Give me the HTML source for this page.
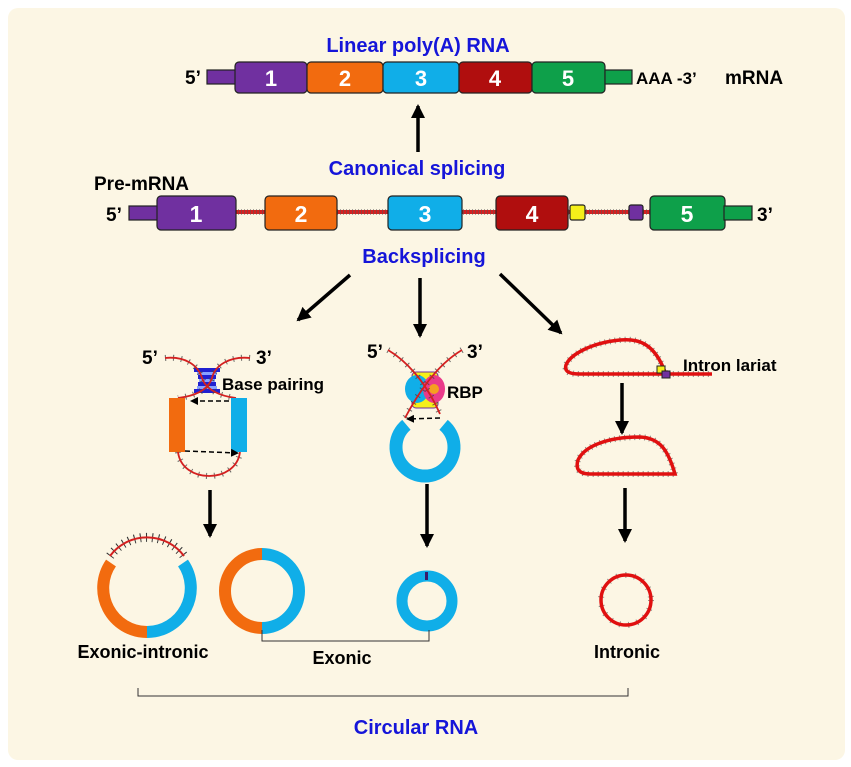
<!DOCTYPE html>
<html><head><meta charset="utf-8"><style>
html,body{margin:0;padding:0;background:#fff;}
svg{display:block;font-family:"Liberation Sans",Arial,sans-serif;font-weight:bold;}
</style></head><body>
<svg width="851" height="767" viewBox="0 0 851 767" xmlns="http://www.w3.org/2000/svg">
<defs>
<marker id="ah" markerWidth="8" markerHeight="8" refX="6" refY="4" orient="auto" markerUnits="userSpaceOnUse"><path d="M0,0 L8,4 L0,8z" fill="#000"/></marker>
<marker id="big" markerWidth="16" markerHeight="16" refX="12" refY="8" orient="auto" markerUnits="userSpaceOnUse"><path d="M0,1 L14,8 L0,15z" fill="#000"/></marker>
<pattern id="tick" width="3" height="8" patternUnits="userSpaceOnUse"><rect x="1" y="0" width="1" height="8" fill="#555"/></pattern>
</defs>
<rect x="0" y="0" width="851" height="767" fill="#fff"/>
<rect x="8" y="8" width="837" height="752" rx="10" fill="#fcf6e4"/>

<text x="418" y="52" font-size="20" fill="#1515d9" text-anchor="middle">Linear poly(A) RNA</text>
<text x="185" y="84" font-size="19" fill="#000">5’</text>
<rect x="207" y="70" width="30" height="14" fill="#7030a0" stroke="#222" stroke-width="1.2"/>
<rect x="235" y="62" width="72" height="31" rx="4" fill="#7030a0" stroke="#222" stroke-width="1.2"/>
<rect x="307" y="62" width="76" height="31" rx="4" fill="#f26b0f" stroke="#222" stroke-width="1.2"/>
<rect x="383" y="62" width="76" height="31" rx="4" fill="#10aee8" stroke="#222" stroke-width="1.2"/>
<rect x="459" y="62" width="73" height="31" rx="4" fill="#b00e0e" stroke="#222" stroke-width="1.2"/>
<rect x="532" y="62" width="73" height="31" rx="4" fill="#0ea04a" stroke="#222" stroke-width="1.2"/>
<rect x="605" y="70" width="27" height="14" fill="#0ea04a" stroke="#222" stroke-width="1.2"/>
<g font-size="22" fill="#fff" text-anchor="middle">
<text x="271" y="86">1</text><text x="345" y="86">2</text><text x="421" y="86">3</text><text x="495" y="86">4</text><text x="568" y="86">5</text></g>
<text x="636" y="84" font-size="17" fill="#000">AAA -3’</text>
<text x="725" y="84" font-size="19" fill="#000">mRNA</text>

<line x1="418" y1="152" x2="418" y2="106" stroke="#000" stroke-width="3.5" marker-end="url(#big)"/>
<text x="417" y="175" font-size="20" fill="#1515d9" text-anchor="middle">Canonical splicing</text>
<text x="94" y="190" font-size="19" fill="#000">Pre-mRNA</text>

<rect x="236" y="210" width="414" height="4" fill="#d42020"/>
<rect x="236" y="209" width="414" height="6" fill="url(#tick)" opacity="0.5"/>
<text x="106" y="221" font-size="19" fill="#000">5’</text>
<rect x="129" y="206" width="30" height="14" fill="#7030a0" stroke="#222" stroke-width="1.2"/>
<rect x="157" y="196" width="79" height="34" rx="4" fill="#7030a0" stroke="#222" stroke-width="1.2"/>
<rect x="265" y="196" width="72" height="34" rx="4" fill="#f26b0f" stroke="#222" stroke-width="1.2"/>
<rect x="388" y="196" width="74" height="34" rx="4" fill="#10aee8" stroke="#222" stroke-width="1.2"/>
<rect x="496" y="196" width="72" height="34" rx="4" fill="#b00e0e" stroke="#222" stroke-width="1.2"/>
<rect x="570" y="205" width="15" height="15" rx="2" fill="#f5f01a" stroke="#222" stroke-width="1.2"/>
<rect x="629" y="205" width="14" height="15" rx="2" fill="#7030a0" stroke="#222" stroke-width="1.2"/>
<rect x="650" y="196" width="75" height="34" rx="4" fill="#0ea04a" stroke="#222" stroke-width="1.2"/>
<rect x="724" y="206" width="28" height="14" fill="#0ea04a" stroke="#222" stroke-width="1.2"/>
<text x="757" y="221" font-size="19" fill="#000">3’</text>
<g font-size="23" fill="#fff" text-anchor="middle">
<text x="196" y="222">1</text><text x="301" y="222">2</text><text x="425" y="222">3</text><text x="532" y="222">4</text><text x="687" y="222">5</text></g>

<text x="424" y="263" font-size="20" fill="#1515d9" text-anchor="middle">Backsplicing</text>
<line x1="350" y1="275" x2="298" y2="320" stroke="#000" stroke-width="3.5" marker-end="url(#big)"/>
<line x1="420" y1="278" x2="420" y2="336" stroke="#000" stroke-width="3.5" marker-end="url(#big)"/>
<line x1="500" y1="274" x2="561" y2="333" stroke="#000" stroke-width="3.5" marker-end="url(#big)"/>

<!-- left construct -->
<text x="142" y="364" font-size="19" fill="#000">5’</text>
<text x="256" y="364" font-size="19" fill="#000">3’</text>
<g fill="#2020d0"><rect x="194" y="368" width="26" height="4"/><rect x="198" y="375" width="18" height="4"/><rect x="198" y="382" width="18" height="4"/><rect x="194" y="389" width="26" height="4"/></g>
<rect x="197" y="372" width="20" height="3" fill="#88a0ff"/><rect x="199" y="379" width="16" height="3" fill="#88a0ff"/><rect x="197" y="386" width="20" height="3" fill="#88a0ff"/>
<g fill="none">
<g stroke="#444" stroke-width="6" stroke-dasharray="1 7" opacity="0.8">
<path d="M165,358 C185,356 198,365 202,378 C206,390 220,396 236,398"/>
<path d="M250,358 C230,356 215,365 212,378 C208,390 195,396 178,398"/>
<path d="M178,452 C182,484 236,484 240,452"/>
</g>
<g stroke="#d42020" stroke-width="1.8">
<path d="M165,358 C185,356 198,365 202,378 C206,390 220,396 236,398"/>
<path d="M250,358 C230,356 215,365 212,378 C208,390 195,396 178,398"/>
<path d="M178,452 C182,484 236,484 240,452"/>
</g></g>
<text x="222" y="390" font-size="17" fill="#000">Base pairing</text>
<rect x="169" y="398" width="16" height="54" fill="#f26b0f"/>
<rect x="231" y="398" width="16" height="54" fill="#10aee8"/>
<line x1="229" y1="401" x2="192" y2="401" stroke="#000" stroke-width="1.5" stroke-dasharray="5,3" marker-end="url(#ah)"/>
<line x1="185" y1="451" x2="237" y2="453" stroke="#000" stroke-width="1.5" stroke-dasharray="5,3" marker-end="url(#ah)"/>
<line x1="210" y1="490" x2="210" y2="536" stroke="#000" stroke-width="3.5" marker-end="url(#big)"/>

<!-- middle construct -->
<text x="367" y="358" font-size="19" fill="#000">5’</text>
<text x="467" y="358" font-size="19" fill="#000">3’</text>
<path d="M443.6,424.8 A29,29 0 1 1 406.4,424.8" fill="none" stroke="#10aee8" stroke-width="13"/>
<rect x="412" y="372" width="26" height="36" rx="4" fill="#f5f01a" stroke="#7030a0" stroke-width="1"/>
<ellipse cx="417" cy="389" rx="12" ry="14" fill="#10aee8"/>
<ellipse cx="434" cy="389" rx="11" ry="14" fill="#ea3b8a"/>
<circle cx="434" cy="389" r="5" fill="#f5a020"/>
<g fill="none">
<g stroke="#444" stroke-width="6" stroke-dasharray="1 7" opacity="0.8">
<path d="M388,350 C405,360 425,380 440,414"/>
<path d="M462,350 C445,360 425,380 405,418"/>
</g>
<g stroke="#d42020" stroke-width="1.8">
<path d="M388,350 C405,360 425,380 440,414"/>
<path d="M462,350 C445,360 425,380 405,418"/>
</g></g>
<line x1="440" y1="418" x2="408" y2="419" stroke="#000" stroke-width="1.5" stroke-dasharray="5,3" marker-end="url(#ah)"/>
<text x="447" y="398" font-size="17" fill="#000">RBP</text>
<line x1="427" y1="484" x2="427" y2="546" stroke="#000" stroke-width="3.5" marker-end="url(#big)"/>

<!-- right construct -->
<g fill="none">
<g stroke="#444" stroke-width="6" stroke-dasharray="1 4" opacity="0.6">
<path d="M665,372 C655,345 640,338 620,340 C590,343 570,355 566,365 C564,372 570,374 580,374 L712,374"/>
<path d="M675,474 C668,450 660,438 640,437 C610,437 585,445 578,460 C575,470 580,474 590,474 Z"/>
<circle cx="626" cy="600" r="25" stroke-dasharray="1 8"/>
</g>
<g stroke="#e01010" stroke-width="3.5">
<path d="M665,372 C655,345 640,338 620,340 C590,343 570,355 566,365 C564,372 570,374 580,374 L712,374"/>
<path d="M675,474 C668,450 660,438 640,437 C610,437 585,445 578,460 C575,470 580,474 590,474 Z"/>
<circle cx="626" cy="600" r="25"/>
</g></g>
<rect x="657" y="366" width="8" height="7" fill="#f5f01a" stroke="#222"/>
<rect x="662" y="371" width="8" height="7" fill="#7030a0" stroke="#222"/>
<text x="683" y="371" font-size="17" fill="#000">Intron lariat</text>
<line x1="622" y1="383" x2="622" y2="433" stroke="#000" stroke-width="3.5" marker-end="url(#big)"/>
<line x1="625" y1="488" x2="625" y2="541" stroke="#000" stroke-width="3.5" marker-end="url(#big)"/>

<!-- bottom circles -->
<path d="M111,563 A44,44 0 0 0 147,632" fill="none" stroke="#f26b0f" stroke-width="12"/>
<path d="M147,632 A44,44 0 0 0 183,563" fill="none" stroke="#10aee8" stroke-width="12"/>
<path d="M110,556 A46,46 0 0 1 184,556" fill="none" stroke="#333" stroke-width="9" stroke-dasharray="1 5"/>
<path d="M110,556 A46,46 0 0 1 184,556" fill="none" stroke="#d42020" stroke-width="2"/>
<path d="M262,628 A37,37 0 0 1 262,554" fill="none" stroke="#f26b0f" stroke-width="12"/>
<path d="M262,554 A37,37 0 0 1 262,628" fill="none" stroke="#10aee8" stroke-width="12"/>
<circle cx="427" cy="601" r="25" fill="none" stroke="#10aee8" stroke-width="11"/>
<rect x="425" y="572" width="3" height="8" fill="#3a1a6a"/>

<text x="143" y="658" font-size="18" fill="#000" text-anchor="middle">Exonic-intronic</text>
<path d="M262,630 V641 H429 V630" fill="none" stroke="#333" stroke-width="1"/>
<text x="342" y="664" font-size="18" fill="#000" text-anchor="middle">Exonic</text>
<text x="627" y="658" font-size="18" fill="#000" text-anchor="middle">Intronic</text>
<path d="M138,688 V696 H628 V688" fill="none" stroke="#333" stroke-width="1"/>
<text x="416" y="734" font-size="20" fill="#1515d9" text-anchor="middle">Circular RNA</text>
</svg>
</body></html>
